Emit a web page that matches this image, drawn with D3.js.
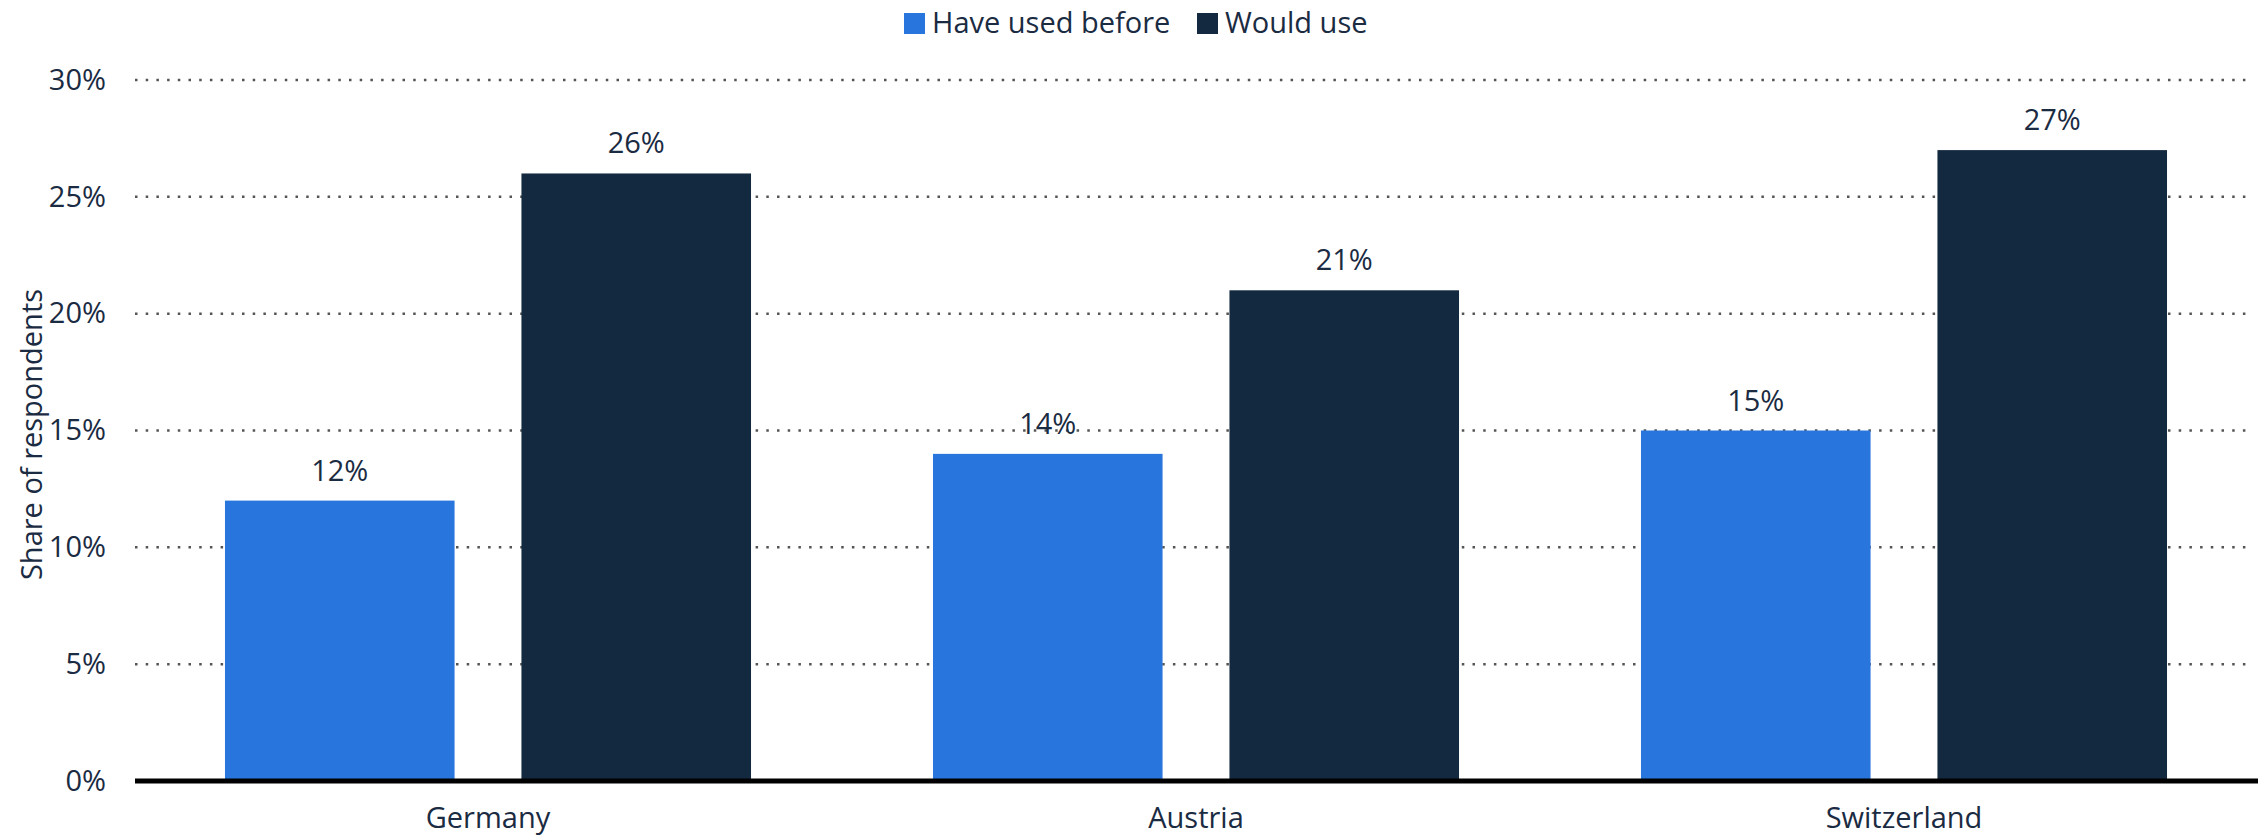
<!DOCTYPE html>
<html>
<head>
<meta charset="utf-8">
<script src="https://cdn.jsdelivr.net/npm/d3@7"></script>
<style>
  body { margin: 0; background: #fff; }
  text { font-family: "Open Sans", sans-serif; fill: #1a2b42; }
</style>
</head>
<body>
<div id="chart"></div>
<script>
// data
var countries = ['Germany', 'Austria', 'Switzerland']
var seriesNames = ['Have used before', 'Would use']
var haveUsed = [12, 14, 15]
var wouldUse = [26, 21, 27]
var yTicks = [0, 5, 10, 15, 20, 25, 30]
var colors = ['#2876dd', '#132940']

var svg_width = 2266,
    svg_height = 835
var margin = { top: 80, right: 8, bottom: 54, left: 134 }
var chart_width = svg_width - margin.left - margin.right,
    chart_height = svg_height - margin.top - margin.bottom

var svg = d3.select('#chart')
  .append('svg')
  .attr('width', svg_width)
  .attr('height', svg_height)

var chartGroup = svg.append('g')
  .attr('transform', `translate(${margin.left}, ${margin.top})`)

var rows = countries.map((c, i) => ({ country: c, values: [haveUsed[i], wouldUse[i]] }))

var x0 = d3.scaleBand()
  .domain(countries)
  .range([0, chart_width])
  .paddingInner(0.257)
  .paddingOuter(0.1285)

var x1 = d3.scaleBand()
  .domain([0, 1])
  .range([0, x0.bandwidth()])
  .paddingInner(0.2256)

var yScale = d3.scaleLinear()
  .domain([0, 30])
  .range([chart_height, 0])

// dotted gridlines
chartGroup.append('g')
  .selectAll('line')
  .data(yTicks.filter(t => t > 0))
  .enter()
  .append('line')
  .attr('x1', 1)
  .attr('x2', chart_width - 8)
  .attr('y1', d => yScale(d))
  .attr('y2', d => yScale(d))
  .attr('stroke', '#555')
  .attr('stroke-width', 2.5)
  .attr('stroke-dasharray', '2.5,8.2')

// y axis labels
var yAxis = d3.axisLeft(yScale)
  .tickValues(yTicks)
  .tickFormat(d => d + '%')
  .tickSize(0)
  .tickPadding(28)

chartGroup.append('g')
  .classed('y-axis', true)
  .call(yAxis)
  .call(g => g.select('.domain').remove())
  .selectAll('text')
  .style('font-size', '29px')
  .attr('fill', '#1a2b42')

// bars
var groups = chartGroup.append('g')
  .selectAll('g')
  .data(rows)
  .enter()
  .append('g')
  .attr('transform', d => `translate(${x0(d.country)}, 0)`)

groups.selectAll('rect')
  .data(d => d.values)
  .enter()
  .append('rect')
  .attr('x', (d, i) => x1(i))
  .attr('y', d => yScale(d))
  .attr('width', x1.bandwidth())
  .attr('height', d => chart_height - yScale(d))
  .attr('fill', (d, i) => colors[i])

groups.selectAll('.val')
  .data(d => d.values)
  .enter()
  .append('text')
  .attr('class', 'val')
  .attr('x', (d, i) => x1(i) + x1.bandwidth() / 2)
  .attr('y', d => yScale(d) - 20)
  .attr('text-anchor', 'middle')
  .style('font-size', '29px')
  .text(d => d + '%')

// x axis
var xAxis = d3.axisBottom(x0).tickSize(0).tickPadding(26)

chartGroup.append('g')
  .classed('x-axis', true)
  .attr('transform', `translate(0, ${chart_height})`)
  .call(xAxis)
  .call(g => g.select('.domain').remove())
  .selectAll('text')
  .style('font-size', '29px')
  .attr('fill', '#1a2b42')

chartGroup.append('line')
  .attr('x1', 1)
  .attr('x2', chart_width + 124 - 124)
  .attr('y1', chart_height)
  .attr('y2', chart_height)
  .attr('stroke', '#000')
  .attr('stroke-width', 5)

// y axis title
svg.append('text')
  .attr('transform', `translate(42, ${margin.top + chart_height / 2 + 4}) rotate(-90)`)
  .attr('text-anchor', 'middle')
  .style('font-size', '29px')
  .text('Share of respondents')

// legend
var legend = svg.append('g')
var legendX = [904, 1197]
seriesNames.forEach((name, i) => {
  legend.append('rect')
    .attr('x', legendX[i])
    .attr('y', 13)
    .attr('width', 21)
    .attr('height', 21)
    .attr('fill', colors[i])
  legend.append('text')
    .attr('x', legendX[i] + 28)
    .attr('y', 33)
    .style('font-size', '29px')
    .text(name)
})
</script>
</body>
</html>
